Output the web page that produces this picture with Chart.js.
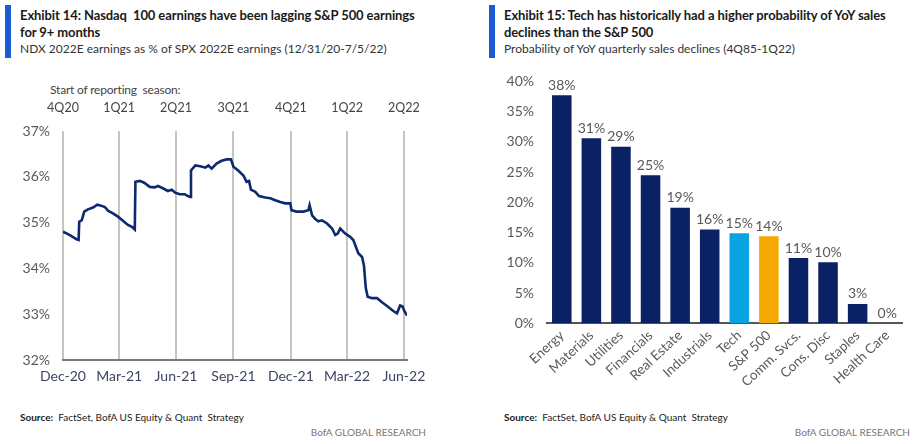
<!DOCTYPE html>
<html>
<head>
<meta charset="utf-8">
<script src="https://cdn.jsdelivr.net/npm/chart.js@4.4.1/dist/chart.umd.min.js"></script>
<style>
  html, body { margin:0; padding:0; background:#fff; }
  body { width:917px; height:444px; position:relative; overflow:hidden; font-family: Lato, "Liberation Sans", sans-serif; }
  .bar { position:absolute; width:6px; background:#1a5bd6; }
  .title { position:absolute; font-family:"Liberation Sans Narrow", Lato, sans-serif; font-weight:bold; font-size:13px; line-height:17px; color:#1a1a1a; white-space:nowrap; letter-spacing:-0.1px; }
  .sub { position:absolute; font-family:"Liberation Sans Narrow", Lato, sans-serif; font-size:12px; color:#333; white-space:nowrap; }
  .src { position:absolute; font-family:"Liberation Sans Narrow", Lato, sans-serif; font-size:10px; color:#222; white-space:nowrap; }
  .src b { font-weight:bold; }
  .brand { position:absolute; font-family:"Liberation Sans Narrow", Lato, sans-serif; font-size:10px; color:#777; white-space:nowrap; text-align:right; }
  .note { position:absolute; font-family:Lato, sans-serif; font-size:12px; color:#444; white-space:nowrap; letter-spacing:-0.2px; }
  canvas { position:absolute; }
  .wrap { position:absolute; }
</style>
</head>
<body>
<div class="bar" style="left:5px; top:5px; height:53px;"></div>
<div class="title" style="left:20px; top:7px;">Exhibit 14: Nasdaq&nbsp; 100 earnings have been lagging S&amp;P 500 earnings<br>for 9+ months</div>
<div class="sub" style="left:20px; top:41px;">NDX 2022E earnings as % of SPX 2022E earnings (12/31/20-7/5/22)</div>
<div class="note" style="left:50px; top:82px;">Start of reporting&nbsp; season:</div>

<div class="bar" style="left:489px; top:5px; height:53px;"></div>
<div class="title" style="left:504px; top:7px;">Exhibit 15: Tech has historically had a higher probability of YoY sales<br>declines than the S&amp;P 500</div>
<div class="sub" style="left:504px; top:41px;">Probability of YoY quarterly sales declines (4Q85-1Q22)</div>

<div class="wrap" style="left:0; top:80px; width:450px; height:310px;"><canvas id="c1"></canvas></div>
<div class="wrap" style="left:455px; top:60px; width:462px; height:345px;"><canvas id="c2"></canvas></div>

<div class="src" style="left:20px; top:411px;"><b>Source:</b>&nbsp; FactSet, BofA US Equity &amp; Quant&nbsp; Strategy</div>
<div class="brand" style="right:491px; top:426px;">BofA GLOBAL RESEARCH</div>
<div class="src" style="left:504px; top:411px;"><b>Source:</b>&nbsp; FactSet, BofA US Equity &amp; Quant&nbsp; Strategy</div>
<div class="brand" style="right:7px; top:426px;">BofA GLOBAL RESEARCH</div>

<script>
// ---- Exhibit 14 data: days since 12/31/20 and NDX/SPX 2022E earnings ratio (%)
const lineDays = [0,8,13,21,25,26,30,34,40,48,55,61,67,72,80,88,96,104,111,115,116,123,130,139,147,152,160,168,174,180,187,195,200,204,205,212,220,228,233,238,246,254,262,269,273,281,289,294,298,301,308,314,324,332,340,348,356,364,366,374,385,393,395,399,404,409,415,423,431,436,440,444,452,460,465,470,473,479,482,485,488,495,503,511,520,529,535,540,544,546,551];
const lineValues = [34.80,34.75,34.71,34.64,34.62,35.02,35.05,35.24,35.29,35.33,35.39,35.37,35.34,35.26,35.20,35.13,35.04,34.95,34.90,34.85,35.89,35.91,35.87,35.78,35.77,35.80,35.75,35.69,35.72,35.65,35.62,35.62,35.58,35.56,36.14,36.25,36.23,36.20,36.25,36.18,36.29,36.35,36.38,36.38,36.22,36.13,36.03,35.89,35.91,35.72,35.67,35.58,35.55,35.53,35.49,35.45,35.42,35.42,35.27,35.24,35.24,35.27,35.38,35.16,35.08,35.03,35.05,34.98,34.87,34.73,34.76,34.87,34.76,34.69,34.62,34.44,34.33,34.25,34.07,33.57,33.38,33.35,33.35,33.26,33.17,33.07,33.02,33.19,33.17,33.09,32.97];
const tickDays = [0,90,181,273,365,455,546];
const monthLabels = ['Dec-20','Mar-21','Jun-21','Sep-21','Dec-21','Mar-22','Jun-22'];
const seasonLabels = ['4Q20','1Q21','2Q21','3Q21','4Q21','1Q22','2Q22'];
const yTicks1 = [32,33,34,35,36,37];

// ---- Exhibit 15 data
const sectors = ['Energy','Materials','Utilities','Financials','Real Estate','Industrials','Tech','S&P 500','Comm. Svcs.','Cons. Disc','Staples','Health Care'];
const probValues = [37.7,30.6,29.2,24.5,19.1,15.5,14.9,14.4,10.8,10.1,3.2,0];
const yTicks2 = [0,5,10,15,20,25,30,35,40];
const highlight = {'Tech':'#0aa3e2','S&P 500':'#f4aa00'};

const tickFont = {family:'Lato', size:14};
const gray = '#595959';

new Chart(document.getElementById('c1'), {
  type:'line',
  data:{ datasets:[{ data: lineDays.map((d,i)=>({x:d,y:lineValues[i]})), borderColor:'#0d2a6e', borderWidth:2.6, pointRadius:0, tension:0, fill:false }]},
  options:{
    responsive:true, maintainAspectRatio:false, animation:false,
    layout:{padding:{left:0,right:43,top:0,bottom:0}},
    plugins:{legend:{display:false}, tooltip:{enabled:false}},
    scales:{
      x:{ type:'linear', position:'bottom', min:0, max:551,
          afterBuildTicks:(s)=>{ s.ticks = tickDays.map(v=>({value:v})); },
          afterFit:(s)=>{ s.height = 30; },
          grid:{display:true, color:'#c4c4c4', lineWidth:2, drawTicks:false},
          border:{display:true, color:'#7a7a7a', width:2},
          ticks:{ padding:8, color:'#3d4460', font:tickFont, maxRotation:0, autoSkip:false,
                  callback:(v,i)=>monthLabels[i] } },
      x2:{ type:'linear', position:'top', min:0, max:551,
          afterBuildTicks:(s)=>{ s.ticks = tickDays.map(v=>({value:v})); },
          afterFit:(s)=>{ s.height = 51; },
          grid:{display:false, drawTicks:false}, border:{display:false},
          ticks:{ padding:16, color:'#444', font:{family:'Lato', size:12.5}, maxRotation:0, autoSkip:false,
                  callback:(v,i)=>seasonLabels[i] } },
      y:{ min:32, max:37,
          afterBuildTicks:(s)=>{ s.ticks = yTicks1.map(v=>({value:v})); },
          afterFit:(s)=>{ s.width = 63; },
          grid:{display:false, drawTicks:false}, border:{display:false},
          ticks:{ padding:13, color:gray, font:tickFont, callback:(v)=>v+'%' } }
    }
  }
});

const barLabels = {
  id:'barLabels',
  afterDatasetsDraw(chart){
    const ctx = chart.ctx;
    const meta = chart.getDatasetMeta(0);
    ctx.save();
    ctx.font = '14px Lato';
    ctx.fillStyle = gray;
    ctx.textAlign = 'center';
    ctx.textBaseline = 'bottom';
    meta.data.forEach((bar,i)=>{
      ctx.fillText(Math.round(probValues[i])+'%', bar.x, bar.y - 3);
    });
    ctx.restore();
  }
};

new Chart(document.getElementById('c2'), {
  type:'bar',
  data:{ labels:sectors, datasets:[{ data:probValues,
    backgroundColor: sectors.map(s=>highlight[s]||'#0b2166'),
    barPercentage:0.66, categoryPercentage:1.0 }]},
  options:{
    responsive:true, maintainAspectRatio:false, animation:false,
    layout:{padding:{left:0,right:15,top:20,bottom:0}},
    plugins:{legend:{display:false}, tooltip:{enabled:false}},
    scales:{
      x:{ afterFit:(s)=>{ s.height = 81.7; },
          grid:{display:false, drawTicks:false},
          border:{display:true, color:'#555', width:2},
          ticks:{ padding:4, color:gray, font:{family:'Lato', size:13.5}, minRotation:43, maxRotation:43, autoSkip:false } },
      y:{ min:0, max:40,
          afterBuildTicks:(s)=>{ s.ticks = yTicks2.map(v=>({value:v})); },
          afterFit:(s)=>{ s.width = 92; },
          grid:{display:false, drawTicks:false}, border:{display:false},
          ticks:{ padding:13, color:gray, font:tickFont, callback:(v)=>v+'%' } }
    }
  },
  plugins:[barLabels]
});
</script>
</body>
</html>
